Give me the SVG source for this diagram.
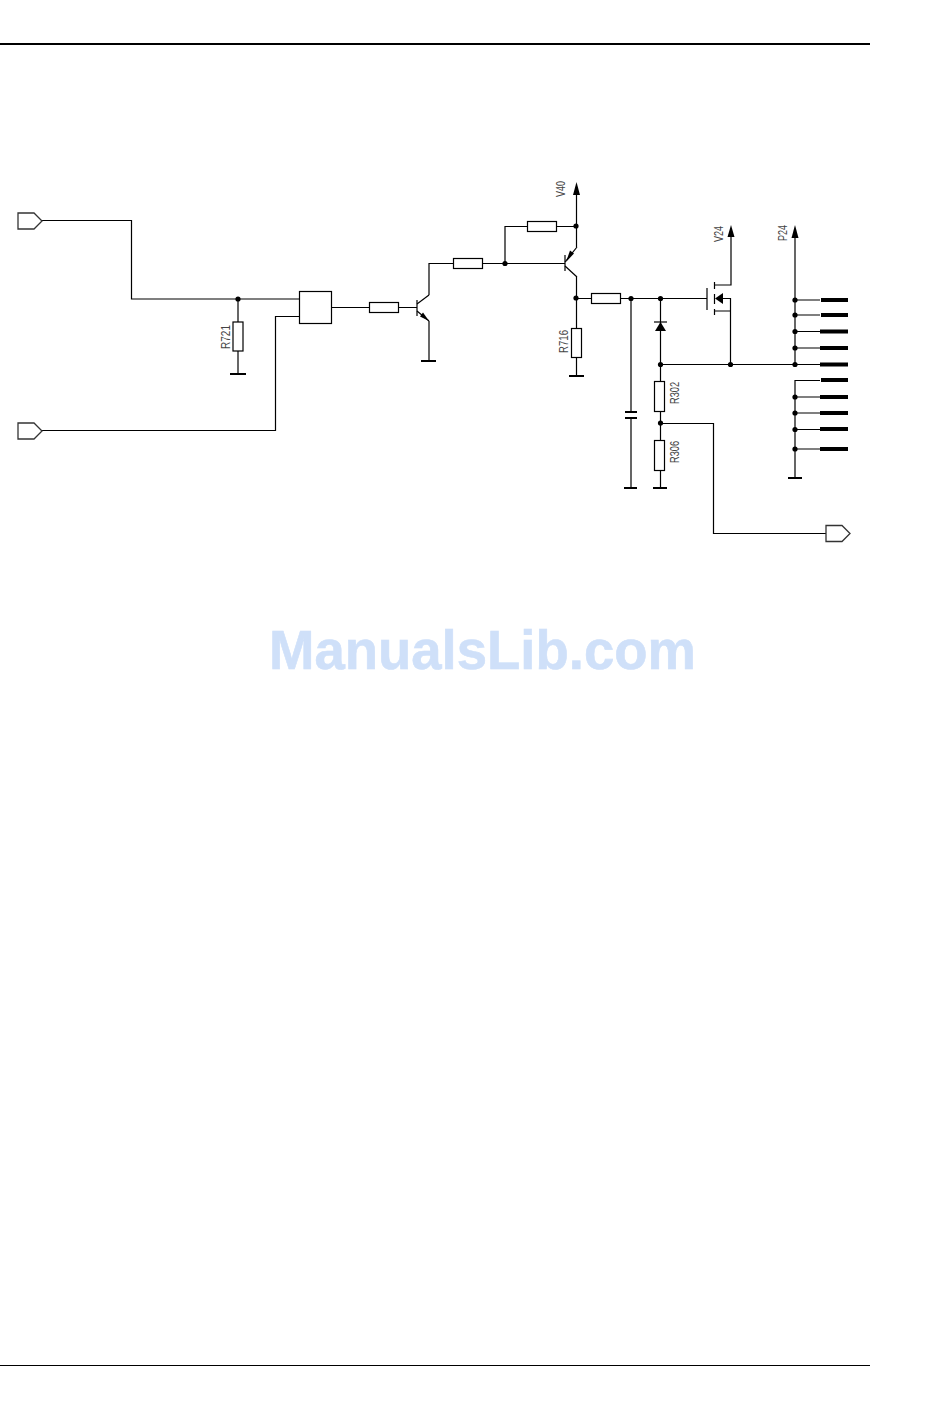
<svg xmlns="http://www.w3.org/2000/svg" width="950" height="1409" viewBox="0 0 950 1409">
<style>
.w{fill:none;stroke:#000;stroke-width:1.2}
.b{fill:#fff;stroke:#000;stroke-width:1.2}
.g{fill:none;stroke:#000;stroke-width:2}
.p{fill:none;stroke:#000;stroke-width:4}
.f{fill:#000;stroke:none}
.t{font-family:"Liberation Sans",Arial,sans-serif;font-size:12px;fill:#444}
.wm{font-family:"Liberation Sans",Arial,sans-serif;font-size:56px;font-weight:bold;fill:#cfe0f9;stroke:#cfe0f9;stroke-width:0.6}
</style>
<defs>
<circle id="d" r="2.6" fill="#000"/>
<path id="port" d="M0 -8H16L24 0L16 8H0Z" fill="#fff" stroke="#333" stroke-width="1.3"/>
</defs>
<rect width="950" height="1409" fill="#fff"/>
<g id="page-rules">
<line x1="0" y1="44" x2="870" y2="44" stroke="#000" stroke-width="2"/>
<line x1="0" y1="1365.500" x2="870" y2="1365.500" stroke="#000" stroke-width="1"/>
</g>
<g id="connectors">
<path class="w" d="M42 220.500H131.500V299H299"/>
<path class="w" d="M42 430.500H275.500V316.500H299"/>
<path class="w" d="M238 299V374"/>
<path class="w" d="M331 307.500H417"/>
<path class="w" d="M429 295V263.500H565"/>
<path class="w" d="M429 321V361"/>
<path class="w" d="M505 263.500V226.500H577"/>
<path class="w" d="M576.500 195V247"/>
<path class="w" d="M576.500 277V375"/>
<path class="w" d="M576.500 298.500H707"/>
<path class="w" d="M631 298.500V412M631 418V488"/>
<path class="w" d="M660.500 298.500V488"/>
<path class="w" d="M660.500 364.500H820"/>
<path class="w" d="M660.500 423.500H713.500V533.500H826"/>
<path class="w" d="M731 237V285H714"/>
<path class="w" d="M714 311H730.500V298.500H720M730.500 311V364.500"/>
<path class="w" d="M795 238V364.500"/>
<path class="w" d="M820 380.500H795V478"/>
<path class="w" d="M795 300H820M795 315H820M795 331.500H820M795 348H820M795 397H820M795 413H820M795 429.500H820M795 449H820"/>
</g>
<g id="input-1"><use href="#port" x="18" y="221"/></g>
<g id="input-2"><use href="#port" x="18" y="431"/></g>
<g id="output"><use href="#port" x="826" y="533.500"/></g>
<g id="block"><rect class="b" x="299.500" y="291.500" width="32" height="32"/></g>
<g id="R721">
<rect class="b" x="233" y="322" width="10" height="29"/>
<line class="g" x1="230" y1="374" x2="246" y2="374"/>
<circle cx="238" cy="299" r="2.600"/>
<text class="t" transform="translate(230 349) rotate(-90)" textLength="24" lengthAdjust="spacingAndGlyphs">R721</text>
</g>
<g id="R-base-q1"><rect class="b" x="369.500" y="302.500" width="29" height="10"/></g>
<g id="Q1">
<line class="w" x1="417" y1="300" x2="417" y2="316"/>
<line class="w" x1="417" y1="304" x2="429" y2="295"/>
<line class="w" x1="417" y1="311" x2="429" y2="321"/>
<polygon class="f" points="429,321 420,316.500 423,312.500"/>
<line class="g" x1="421" y1="361" x2="436" y2="361"/>
</g>
<g id="R-series"><rect class="b" x="453.500" y="258.500" width="29" height="10"/><circle cx="505" cy="263.500" r="2.600"/></g>
<g id="R-top"><rect class="b" x="527.500" y="221.500" width="29" height="10"/><circle cx="576" cy="226" r="2.600"/></g>
<g id="Q2">
<line class="w" x1="565" y1="255" x2="565" y2="271"/>
<line class="w" x1="565" y1="262" x2="577" y2="247"/>
<line class="w" x1="565" y1="266" x2="577" y2="277"/>
<polygon class="f" points="566,262 574,253.500 570,250.500"/>
</g>
<g id="V40">
<polygon class="f" points="576.500,182 573,195 580,195"/>
<text class="t" transform="translate(565 197) rotate(-90)" textLength="16" lengthAdjust="spacingAndGlyphs">V40</text>
</g>
<g id="R716">
<circle cx="576" cy="298" r="2.600"/>
<rect class="b" x="571.500" y="328.500" width="10" height="29"/>
<line class="g" x1="569" y1="376" x2="584" y2="376"/>
<text class="t" transform="translate(568 353) rotate(-90)" textLength="23" lengthAdjust="spacingAndGlyphs">R716</text>
</g>
<g id="R-series-2"><rect class="b" x="591.500" y="293.500" width="29" height="10"/><circle cx="631" cy="298.500" r="2.600"/></g>
<g id="C">
<line class="g" x1="625" y1="412" x2="637" y2="412"/>
<line class="g" x1="625" y1="418" x2="637" y2="418"/>
<line class="g" x1="624" y1="488" x2="637" y2="488"/>
</g>
<g id="D">
<circle cx="660.500" cy="298.500" r="2.600"/>
<polygon class="f" points="660.500,322 655,331 666,331"/>
<line class="w" x1="654" y1="322" x2="667" y2="322"/>
<circle cx="660.500" cy="364.500" r="2.600"/>
</g>
<g id="R302">
<rect class="b" x="654.500" y="381.500" width="10" height="30"/>
<text class="t" transform="translate(679 404) rotate(-90)" textLength="22" lengthAdjust="spacingAndGlyphs">R302</text>
<circle cx="660.500" cy="423" r="2.600"/>
</g>
<g id="R306">
<rect class="b" x="654.500" y="440.500" width="10" height="30"/>
<line class="g" x1="653" y1="488" x2="667" y2="488"/>
<text class="t" transform="translate(679 463) rotate(-90)" textLength="22" lengthAdjust="spacingAndGlyphs">R306</text>
</g>
<g id="Q3">
<line class="w" x1="707" y1="288" x2="707" y2="310"/>
<path class="w" d="M714.500 282V289M714.500 294V304M714.500 309V315"/>
<polygon class="f" points="715,298.500 723,293 723,304"/>
<circle cx="730.500" cy="364.500" r="2.600"/>
</g>
<g id="V24">
<polygon class="f" points="731,225 727.500,237 734.500,237"/>
<text class="t" transform="translate(723 242) rotate(-90)" textLength="16" lengthAdjust="spacingAndGlyphs">V24</text>
</g>
<g id="P24">
<polygon class="f" points="795,225 791.500,238 798.500,238"/>
<text class="t" transform="translate(787 241) rotate(-90)" textLength="16" lengthAdjust="spacingAndGlyphs">P24</text>
<line class="g" x1="788" y1="478" x2="802" y2="478"/>
</g>
<g id="pins">
<path class="p" d="M821 300H848M821 315H848M820 331.500H848M820 348H848M820 364.500H848M821 380H848M820 397H848M820 413H848M820 429H848M820 449H848"/>
<use href="#d" x="795" y="300"/><use href="#d" x="795" y="315"/><use href="#d" x="795" y="331.500"/><use href="#d" x="795" y="348"/><use href="#d" x="795" y="364.500"/><use href="#d" x="795" y="397"/><use href="#d" x="795" y="413"/><use href="#d" x="795" y="429.500"/><use href="#d" x="795" y="449"/>
</g>
<text class="wm" x="269" y="669" textLength="427" lengthAdjust="spacingAndGlyphs">ManualsLib.com</text>
</svg>
